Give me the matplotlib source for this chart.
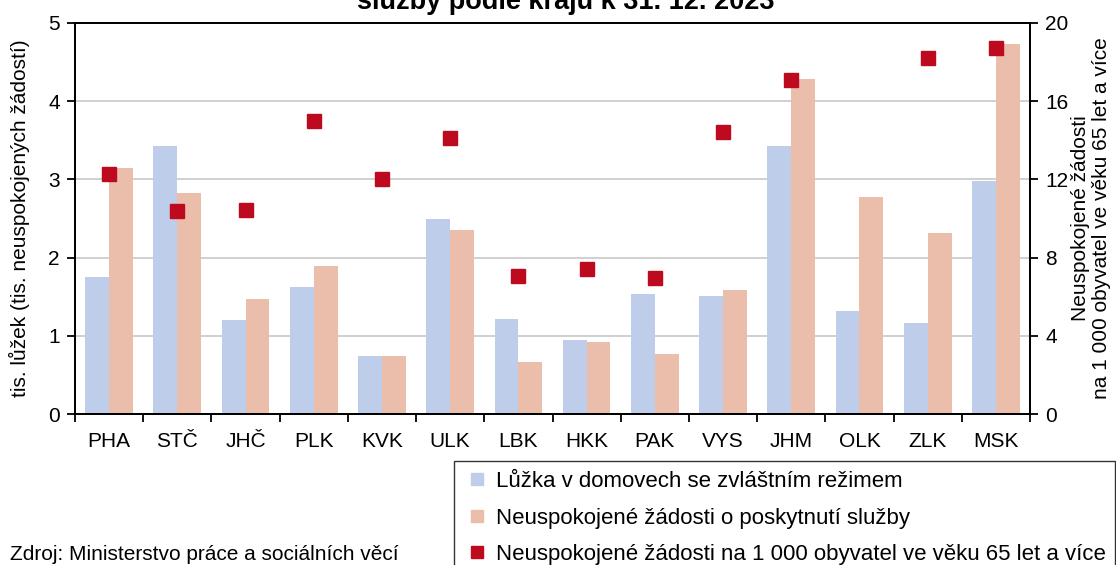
import numpy as np
import matplotlib
matplotlib.use('Agg')
import matplotlib.pyplot as plt
from matplotlib.lines import Line2D

plt.rcParams['font.family'] = ['Liberation Sans', 'DejaVu Sans']

kraje = ['PHA', 'STČ', 'JHČ', 'PLK', 'KVK', 'ULK', 'LBK', 'HKK', 'PAK', 'VYS', 'JHM', 'OLK', 'ZLK', 'MSK']
luzka = [1.75, 3.43, 1.20, 1.62, 0.74, 2.50, 1.22, 0.95, 1.53, 1.51, 3.43, 1.32, 1.17, 2.98]
zadosti = [3.15, 2.83, 1.47, 1.89, 0.74, 2.35, 0.66, 0.92, 0.77, 1.59, 4.29, 2.77, 2.31, 4.73]
na_1000 = [12.3, 10.4, 10.45, 15.0, 12.0, 14.1, 7.08, 7.43, 6.97, 14.4, 17.1, np.nan, 18.2, 18.7]

c_blue = '#BDCDEA'
c_pink = '#EBBDAB'
c_red = '#BE0A1E'

fig = plt.figure(figsize=(11.16, 5.65), dpi=100)
ax = fig.add_axes([75/1116, 1-414/565, 955/1116, 391/565])
ax2 = ax.twinx()

x = np.arange(len(kraje))
w = 0.35
ax.bar(x - w/2, luzka, w, color=c_blue, zorder=2)
ax.bar(x + w/2, zadosti, w, color=c_pink, zorder=2)
ax2.plot(x, na_1000, 's', color=c_red, markersize=10, linestyle='none', zorder=3)

ax.set_xlim(-0.5, len(kraje) - 0.5)
ax.set_ylim(0, 5)
ax.set_yticks(range(0, 6))
ax2.set_ylim(0, 20)
ax2.set_yticks(range(0, 21, 4))

ax.set_xticks(x)
ax.set_xticklabels(kraje, fontsize=15)
ax.set_xticks(np.arange(-0.5, len(kraje), 1), minor=True)
ax.tick_params(axis='x', which='major', length=0, pad=13)
ax.tick_params(axis='x', which='minor', length=6, width=1.3, direction='out')
ax.tick_params(axis='y', labelsize=15, length=6, width=1.3, direction='out', pad=5)
ax2.tick_params(axis='y', labelsize=15, length=6, width=1.3, direction='out', pad=5)

ax.grid(axis='y', color='#C8C8C8', linewidth=1.2, zorder=0)
ax.set_axisbelow(True)
for a in (ax, ax2):
    for s in a.spines.values():
        s.set_color('black')
        s.set_linewidth(1.3)

ax.set_ylabel('tis. lůžek (tis. neuspokojených žádostí)', fontsize=15, labelpad=13)
ax2.set_ylabel('Neuspokojené žádosti\nna 1 000 obyvatel ve věku 65 let a více', fontsize=15,
               labelpad=2, linespacing=1.1)

fig.text(0.507, 1 - 9/565, 'služby podle krajů k 31. 12. 2023', ha='center', va='baseline',
         fontsize=19.5, fontweight='bold')

handles = [
    Line2D([], [], marker='s', color=c_blue, linestyle='none', markersize=8),
    Line2D([], [], marker='s', color=c_pink, linestyle='none', markersize=8),
    Line2D([], [], marker='s', color=c_red, linestyle='none', markersize=8),
]
labels = ['Lůžka v domovech se zvláštním režimem',
          'Neuspokojené žádosti o poskytnutí služby',
          'Neuspokojené žádosti na 1 000 obyvatel ve věku 65 let a více']
leg = fig.legend(handles, labels, loc='upper left', bbox_to_anchor=(454/1116, 1 - 461/565),
                 fontsize=16, frameon=True, fancybox=False, edgecolor='black',
                 labelspacing=0.7, handlelength=1.2, handletextpad=0.22, borderpad=0.45,
                 borderaxespad=0)
leg.get_frame().set_linewidth(1.0)

fig.text(10/1116, 1 - 560/565, 'Zdroj: Ministerstvo práce a sociálních věcí', fontsize=15,
         ha='left', va='baseline')

fig.savefig('out.png', dpi=100)
